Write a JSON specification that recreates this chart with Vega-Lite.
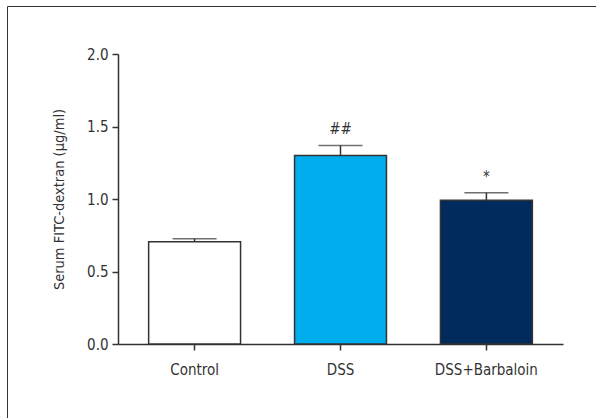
{
  "$schema": "https://vega.github.io/schema/vega-lite/v6.json",
  "width": 445,
  "height": 290,
  "autosize": {"type": "none"},
  "padding": {"left": 118, "top": 54, "right": 33, "bottom": 74},
  "background": "white",
  "config": {"view": {"stroke": null}, "font": "DejaVu Sans Condensed"},
  "data": {"values": [
    {"group": "Control", "value": 0.706, "upper": 0.726, "sig": ""},
    {"group": "DSS", "value": 1.30, "upper": 1.369, "sig": "##"},
    {"group": "DSS+Barbaloin", "value": 0.991, "upper": 1.043, "sig": "*"}
  ]},
  "encoding": {
    "x": {
      "field": "group", "type": "nominal", "sort": null,
      "scale": {"paddingInner": 0.37, "paddingOuter": 0.21},
      "axis": {"title": null, "labelAngle": 0, "domainColor": "#333", "domainWidth": 1.5, "tickColor": "#333", "tickWidth": 1.5, "tickSize": 6, "labelFontSize": 15, "labelColor": "#333", "labelPadding": 12}
    }
  },
  "layer": [
    {
      "mark": {"type": "bar", "stroke": "#333", "strokeWidth": 1.5},
      "encoding": {
        "y": {
          "field": "value", "type": "quantitative",
          "scale": {"domain": [0, 2], "nice": false},
          "axis": {"title": "Serum FITC-dextran (µg/ml)", "values": [0, 0.5, 1, 1.5, 2], "format": ".1f", "grid": false, "domainColor": "#333", "domainWidth": 1.5, "tickColor": "#333", "tickWidth": 1.5, "tickSize": 6, "labelFontSize": 15, "labelColor": "#333", "labelPadding": 4, "titleFontSize": 14.5, "titleFontWeight": "normal", "titleColor": "#333", "titlePadding": 20}
        },
        "fill": {"field": "group", "type": "nominal", "scale": {"domain": ["Control", "DSS", "DSS+Barbaloin"], "range": ["#ffffff", "#00aeef", "#002b5c"]}, "legend": null}
      }
    },
    {
      "mark": {"type": "rule", "color": "#333", "strokeWidth": 1.5},
      "encoding": {"y": {"field": "value", "type": "quantitative"}, "y2": {"field": "upper"}}
    },
    {
      "mark": {"type": "tick", "orient": "horizontal", "size": 44, "thickness": 1.5, "color": "#333"},
      "encoding": {"y": {"field": "upper", "type": "quantitative"}}
    },
    {
      "mark": {"type": "text", "dy": -16, "baseline": "middle", "fontSize": 15, "color": "#333"},
      "encoding": {"y": {"field": "upper", "type": "quantitative"}, "text": {"field": "sig"}}
    },
    {
      "mark": {"type": "point", "opacity": 0},
      "encoding": {
        "y": {"field": "value", "type": "quantitative"},
        "color": {"field": "value", "type": "quantitative", "legend": {
          "orient": "none", "legendX": -110.5, "legendY": -47.5, "direction": "vertical",
          "gradientLength": 440, "gradientThickness": 620, "labelExpr": "''", "labelOpacity": 0, "labelFontSize": 1, "title": null, "padding": 0,
          "gradientStrokeColor": "#333", "gradientStrokeWidth": 1,
          "encode": {"gradient": {"update": {"fillOpacity": {"value": 0}}}}
        }}
      }
    }
  ]
}
